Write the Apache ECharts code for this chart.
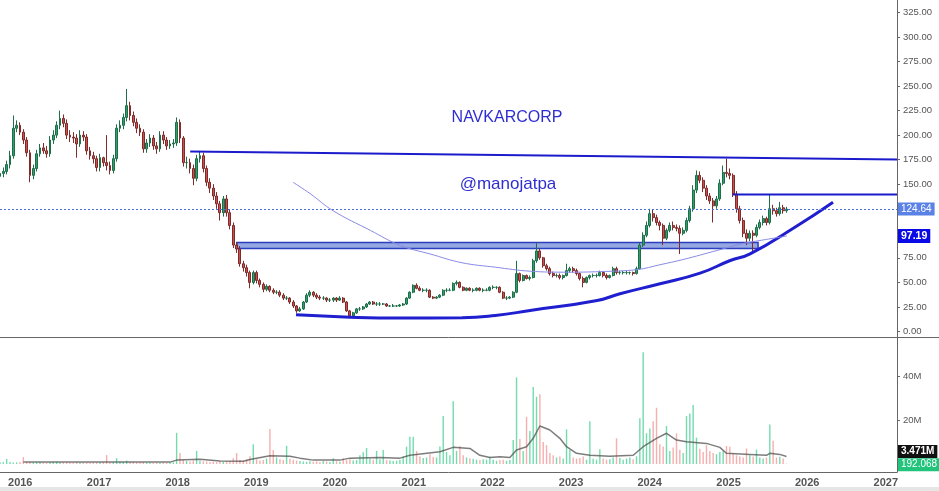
<!DOCTYPE html>
<html>
<head>
<meta charset="utf-8">
<script src="https://cdn.jsdelivr.net/npm/echarts@6/dist/echarts.min.js"></script>
<style>
  html, body { margin: 0; padding: 0; background: #fff; }
  #main { width: 939px; height: 491px; }
</style>
</head>
<body>
<div id="main"></div>
<script>
// half-month candles, first one at 2015-09-29
const startDate = '2015-09-29';
const stepDays = 15.47;

const opens = [158,161,163,170,179,207,210,203,195,182,
  159,166,181,187,184,181,195,200,210,217,
  212,200,198,197,191,200,198,184,179,176,
  167,177,172,169,164,176,207,210,218,230,
  220,213,207,203,186,192,197,189,186,200,
  195,189,191,192,213,197,172,172,166,156,
  176,179,166,152,146,138,130,121,135,121,
  108,88,84,69,65,60,50,60,52,48,
  43,46,42,40,40,37,34,34,30,26,
  21,23,30,37,40,37,35,34,34,32,
  32,34,32,34,30,21,16,19,23,23,
  25,28,30,28,28,28,28,26,26,26,
  26,27,28,34,40,47,44,42,42,42,
  35,34,35,37,42,42,42,49,50,45,
  42,44,42,42,44,42,42,42,45,45,
  45,40,34,34,35,40,59,52,57,54,
  55,72,82,75,67,64,59,57,57,55,
  57,62,64,62,59,54,50,55,57,57,
  57,60,57,55,57,64,60,60,60,60,
  60,59,64,88,98,108,120,116,111,108,
  95,103,108,106,105,100,103,113,125,144,
  159,154,146,138,133,128,135,151,162,161,
  159,140,125,113,100,95,100,98,106,111,
  115,111,125,123,120,126,123];

const closes = [161,163,170,179,207,210,203,195,182,159,
  166,181,187,184,181,195,200,210,217,212,
  200,198,197,191,200,198,184,179,176,167,
  177,172,169,164,176,207,210,218,230,220,
  213,207,203,186,192,197,189,186,200,195,
  189,191,192,213,197,172,172,166,156,176,
  179,166,152,146,138,130,121,135,121,108,
  88,84,69,65,60,50,60,52,48,43,
  46,42,40,40,37,34,34,30,26,21,
  23,30,37,40,37,35,34,34,32,32,
  34,32,34,30,21,16,19,23,23,25,
  28,30,28,28,28,28,26,26,26,26,
  27,28,34,40,47,44,42,42,42,35,
  34,35,37,42,42,42,49,50,45,42,
  44,42,42,44,42,42,42,45,45,45,
  40,34,34,35,40,59,52,57,54,55,
  72,82,75,67,64,59,57,57,55,57,
  62,64,62,59,54,50,55,57,57,57,
  60,57,55,57,64,60,60,60,60,60,
  59,64,88,98,108,120,116,111,108,95,
  103,108,106,105,100,103,113,125,144,159,
  154,146,138,133,128,135,151,162,161,159,
  140,125,113,100,95,100,98,106,111,115,
  111,125,123,120,126,123,124.64];

const highs = [165,167,174,184,220,215,213,206,198,185,
  170,185,191,192,189,199,205,214,225,221,
  216,205,203,201,205,204,201,188,183,179,
  181,178,200,173,180,211,215,222,247,234,
  224,217,211,206,196,201,200,193,204,204,
  198,195,196,218,216,199,178,176,170,180,
  184,182,169,156,150,142,133,138,139,124,
  111,91,87,72,68,62,62,62,54,50,
  48,47,44,42,42,39,36,35,32,27,
  25,31,39,42,41,39,37,36,35,34,
  35,35,36,35,31,22,20,24,25,26,
  29,31,31,30,30,29,29,27,28,27,
  28,29,35,41,48,49,46,44,44,43,
  36,36,38,43,44,44,50,52,51,46,
  45,45,44,45,45,44,44,46,47,46,
  46,41,36,36,41,72,60,58,58,57,
  74,90,84,76,69,66,61,59,59,58,
  69,66,66,64,60,56,56,58,59,59,
  62,61,59,58,66,66,62,62,62,61,
  61,66,90,101,112,125,124,119,113,110,
  105,111,112,109,108,106,116,128,149,164,
  163,157,149,141,136,138,155,169,176,166,
  161,143,128,116,104,103,103,109,114,118,
  117,140,129,126,132,129,127];

const lows = [154,157,160,166,176,203,200,191,178,152,
  155,163,178,181,177,178,191,197,206,208,
  196,193,192,177,188,194,180,175,171,163,
  163,168,164,160,161,173,203,206,214,215,
  209,202,199,182,182,188,185,181,183,191,
  185,186,187,189,192,168,166,161,149,153,
  172,162,148,141,134,125,113,117,117,104,
  85,80,66,61,56,44,48,49,45,40,
  41,40,38,38,35,32,32,28,24,19,
  20,22,29,35,35,33,32,32,30,30,
  30,30,31,29,20,14,15,18,21,22,
  24,27,27,26,26,27,25,25,25,25,
  25,26,27,33,39,43,41,40,40,34,
  33,33,34,36,40,41,41,47,44,41,
  41,41,40,41,41,40,41,41,43,43,
  39,33,32,33,34,39,50,51,53,52,
  54,70,73,65,62,57,55,55,53,53,
  56,60,60,57,52,45,49,53,55,55,
  56,55,53,54,56,58,58,58,58,58,
  57,58,63,86,96,106,112,108,103,88,
  93,101,103,102,79,98,101,111,122,141,
  151,142,134,130,111,125,133,149,157,155,
  137,121,110,96,88,92,82,96,104,108,
  108,109,119,117,118,120,121];

// volume in millions
const volumes = [0.8,0.9,2.3,1.0,0.7,0.8,0.9,3.2,0.8,0.9,
  0.7,0.8,0.9,0.7,0.6,0.8,0.9,1.0,0.8,0.7,
  0.8,0.7,0.6,0.9,0.7,0.6,0.8,0.7,0.6,0.7,
  0.8,0.9,4.1,0.8,0.9,2.7,1.2,1.0,1.6,0.9,
  0.8,0.7,0.8,0.9,0.6,0.7,0.6,0.7,0.6,0.7,
  0.6,0.7,0.8,14.2,5.0,1.8,1.4,1.2,1.6,6.0,
  1.5,1.3,1.2,1.0,1.1,0.9,1.3,1.0,1.2,1.4,
  2.6,5.0,1.8,1.5,2.0,3.6,9.0,2.2,1.6,1.8,
  2.5,15.9,6.4,3.0,2.2,1.8,8.3,2.4,2.0,1.6,
  1.4,1.2,1.0,1.3,1.1,1.2,1.0,1.4,1.2,1.0,
  2.7,1.3,1.1,2.7,1.8,2.2,1.6,1.8,4.0,5.4,
  7.3,2.5,2.0,6.0,2.2,6.4,1.8,1.6,1.4,1.5,
  1.8,3.5,7.9,12.4,12.4,6.0,3.5,2.8,3.0,4.5,
  3.2,3.0,8.0,21.8,5.5,4.0,28.6,6.0,8.2,4.0,
  3.0,2.6,2.4,2.0,1.8,2.2,2.0,3.3,2.0,1.5,
  1.8,2.0,1.5,1.8,11.0,39.4,11.4,6.0,21.5,15.0,
  35.0,30.6,31.7,10.0,8.6,5.0,4.0,3.0,3.5,2.5,
  15.8,6.4,3.0,2.5,2.8,3.5,2.0,19.5,2.4,2.0,
  6.7,2.5,2.0,2.2,3.0,11.7,2.8,2.0,2.5,3.0,
  2.2,3.5,20.8,50.8,14.0,16.2,19.5,25.6,9.0,8.0,
  17.3,6.0,7.5,14.0,6.5,5.0,21.8,23.0,26.8,12.0,
  7.0,5.5,8.6,6.0,5.0,4.5,5.5,6.0,8.2,7.9,
  5.0,4.0,3.5,3.0,7.1,4.0,3.5,6.6,3.0,2.5,
  3.0,18.0,10.6,3.0,3.3,2.5,0.192068];

// volume moving average, read at some candles
const volMaIdx = [7,30,51,53,60,66,73,75,81,87,90,94,102,105,114,120,123,132,136,141,144,147,150,153,155,158,160,162,165,168,170,173,177,183,190,193,197,200,203,206,212,216,218,225,230,231,234,236];
const volMaVal = [1.0,0.9,0.9,1.8,2.2,1.4,1.3,2.1,3.8,3.6,2.7,1.8,1.8,2.7,3.0,2.7,4.0,5.6,7.6,7.1,4.0,3.0,3.3,3.0,6.4,7.9,11.7,17.3,15.5,11.7,7.9,4.9,4.0,3.6,4.0,7.9,11.7,14.0,10.9,10.1,9.4,7.6,4.9,4.4,4.0,4.9,4.4,3.471];

// slow price moving average (thin purple curve)
const priceMaDates = ['2019-06-20','2019-09-07','2019-12-23','2020-06-13','2020-10-30','2021-03-17','2021-08-13','2022-01-14','2022-06-25','2022-12-14','2023-05-16','2023-11-03','2024-02-18','2024-06-04','2024-11-08','2025-03-09','2025-05-27','2025-09-29'];
const priceMaVals = [152,140.5,123,103,87.6,79,70,65.5,61.4,60.4,61,63,68,73.3,82.5,89.6,92.7,97.19];

// drawings
const arcDates = ['2019-07-04','2020-03-11','2020-10-30','2021-08-13','2022-01-14','2022-06-25','2023-05-02','2023-08-16','2024-02-18','2024-08-22','2025-01-09','2025-04-11','2025-11-05','2026-05-01'];
const arcVals = [17,14.6,13.7,14,16.3,21.4,31.6,38.4,48.6,59.4,72.3,79.1,106.2,131.7];
const topLineDates = ['2018-02-28','2027-02-22'];
const topLineVals = [183.3,175.2];
const flatLineDates = ['2025-01-21','2027-02-22'];
const flatLineVals = [139.5,139.5];
const zoneDates = ['2018-10-03','2025-05-18'];
const zoneVals = [90.6,84.5];

const lastPrice = 124.64;
const lastMa = 97.19;
const lastVolMa = 3.471;
const lastVol = 0.192068;

// 100 and 125 are covered by the price tags on the scale
const priceTicks = [0,25,50,75,150,175,200,225,250,275,300,325];
const volTicks = [20,40];
const yearTicks = ['2016','2017','2018','2019','2020','2021','2022','2023','2024','2025','2026','2027'];

const xMin = Date.parse('2015-09-29');
const xMax = Date.parse('2027-02-22');

const dates = [];
for (let i = 0; i < closes.length; i++) {
  dates.push(Date.parse(startDate) + i * stepDays * 86400000);
}

const candleData = dates.map((d, i) => [d, opens[i], closes[i], lows[i], highs[i]]);
const volData = dates.map((d, i) => ({
  value: [d, volumes[i]],
  itemStyle: { color: closes[i] >= opens[i] ? 'rgba(40,200,130,0.65)' : 'rgba(240,120,120,0.6)' }
}));
const volMaData = volMaIdx.map((k, i) => [dates[k], volMaVal[i]]);
const pair = (ds, vs) => ds.map((d, i) => [Date.parse(d), vs[i]]);

const FONT = 'Liberation Sans, Arial, sans-serif';
const tag = (text, bg, extra) => Object.assign({
  show: true, position: 'end', distance: 1, formatter: text,
  backgroundColor: bg, color: '#fff', fontSize: 10, fontFamily: FONT,
  padding: [2, 3, 1, 3]
}, extra || {});
const hidden = { color: 'rgba(0,0,0,0)', width: 1 };

const chart = echarts.init(document.getElementById('main'));

// x axes are plain value axes holding timestamps
const option = {
  animation: false,
  backgroundColor: '#fff',
  grid: [
    { left: 0, right: 42, top: 0, height: 337 },
    { left: 0, right: 42, top: 338, height: 134 }
  ],
  xAxis: [
    {
      type: 'value', gridIndex: 0, min: xMin, max: xMax, scale: true,
      axisLine: { show: true, onZero: false, lineStyle: { color: '#666' } },
      axisTick: { show: false }, axisLabel: { show: false }, splitLine: { show: false }
    },
    {
      type: 'value', gridIndex: 1, min: xMin, max: xMax, scale: true,
      axisLine: { show: true, onZero: false, lineStyle: { color: '#666' } },
      axisTick: { show: false },
      splitLine: { show: false },
      axisLabel: {
        customValues: yearTicks.map(y => Date.parse(y + '-01-01')),
        formatter: v => String(new Date(v).getUTCFullYear()),
        color: '#555', fontSize: 11, fontWeight: 'bold', fontFamily: FONT, margin: 5
      }
    }
  ],
  yAxis: [
    {
      type: 'value', gridIndex: 0, position: 'right', min: -5.6, max: 337.6,
      axisLine: { show: true, onZero: false, lineStyle: { color: '#666' } },
      axisTick: { show: true, customValues: priceTicks, length: 3, lineStyle: { color: '#666' } },
      axisLabel: {
        customValues: priceTicks, formatter: v => v.toFixed(2),
        color: '#555', fontSize: 9.5, fontFamily: FONT, margin: 6
      },
      splitLine: { show: false }
    },
    {
      type: 'value', gridIndex: 1, position: 'right', min: -3.6, max: 57.3,
      axisLine: { show: true, onZero: false, lineStyle: { color: '#666' } },
      axisTick: { show: true, customValues: volTicks, length: 3, lineStyle: { color: '#666' } },
      axisLabel: {
        customValues: volTicks, formatter: v => v + 'M',
        color: '#555', fontSize: 9.5, fontFamily: FONT, margin: 6
      },
      splitLine: { show: false }
    }
  ],
  series: [
    {
      name: 'price', type: 'candlestick', xAxisIndex: 0, yAxisIndex: 0,
      data: candleData, barWidth: 2.4,
      itemStyle: {
        color: '#2f9e6c', color0: '#c9504e',
        borderColor: '#1f6e4a', borderColor0: '#7e2b2a', borderWidth: 1
      },
      markArea: {
        silent: true,
        itemStyle: { color: 'rgba(80,110,205,0.6)', borderColor: '#2b3fc0', borderWidth: 1.5 },
        data: [[
          { xAxis: Date.parse(zoneDates[0]), yAxis: zoneVals[0] },
          { xAxis: Date.parse(zoneDates[1]), yAxis: zoneVals[1] }
        ]]
      },
      markLine: {
        silent: true, symbol: 'none',
        lineStyle: { color: '#4a6fd6', type: [2, 2], width: 1 },
        label: tag(String(lastPrice), '#5a82e6'),
        data: [{ yAxis: lastPrice }]
      }
    },
    {
      name: 'top', type: 'line', xAxisIndex: 0, yAxisIndex: 0,
      data: pair(topLineDates, topLineVals), symbol: 'none',
      lineStyle: { color: '#1b1bcc', width: 2 }
    },
    {
      name: 'flat', type: 'line', xAxisIndex: 0, yAxisIndex: 0,
      data: pair(flatLineDates, flatLineVals), symbol: 'none',
      lineStyle: { color: '#1b1bcc', width: 2 }
    },
    {
      name: 'arc', type: 'line', xAxisIndex: 0, yAxisIndex: 0,
      data: pair(arcDates, arcVals), symbol: 'none', smooth: 0.5,
      lineStyle: { color: '#1f1fcf', width: 3 }
    },
    {
      name: 'ma', type: 'line', xAxisIndex: 0, yAxisIndex: 0,
      data: pair(priceMaDates, priceMaVals), symbol: 'none', smooth: 0.4,
      lineStyle: { color: '#8a8ae8', width: 1 },
      markLine: {
        silent: true, symbol: 'none',
        lineStyle: hidden,
        label: tag(String(lastMa), '#0a0ae6', { fontWeight: 'bold', fontSize: 10.5 }),
        data: [{ yAxis: lastMa }]
      }
    },
    {
      name: 'volume', type: 'bar', xAxisIndex: 1, yAxisIndex: 1,
      data: volData, barWidth: 1.4,
      markLine: {
        silent: true, symbol: 'none',
        lineStyle: hidden,
        label: tag('192.068', '#22c47c', { offset: [0, 1] }),
        data: [{ yAxis: lastVol }]
      }
    },
    {
      name: 'volma', type: 'line', xAxisIndex: 1, yAxisIndex: 1,
      data: volMaData, symbol: 'none',
      lineStyle: { color: 'rgba(80,80,80,0.75)', width: 1.5 },
      markLine: {
        silent: true, symbol: 'none',
        lineStyle: hidden,
        label: tag(lastVolMa + 'M', '#111', { fontWeight: 'bold', offset: [0, -5] }),
        data: [{ yAxis: lastVolMa }]
      }
    }
  ],
  graphic: [
    {
      type: 'text', x: 507, y: 118, silent: true,
      style: { text: 'NAVKARCORP', fill: '#2e2ed0', font: '16px ' + FONT, textAlign: 'center', textVerticalAlign: 'middle' }
    },
    {
      type: 'text', x: 508, y: 184, silent: true,
      style: { text: '@manojatpa', fill: '#2e2ed0', font: '17px ' + FONT, textAlign: 'center', textVerticalAlign: 'middle' }
    },
    {
      type: 'line', silent: true,
      shape: { x1: 897, y1: 337.5, x2: 939, y2: 337.5 },
      style: { stroke: '#666', lineWidth: 1 }
    },
    {
      type: 'rect', silent: true,
      shape: { x: 0, y: 487, width: 939, height: 4 },
      style: { fill: '#e6e6e6' }
    }
  ]
};

chart.setOption(option);
</script>
</body>
</html>
